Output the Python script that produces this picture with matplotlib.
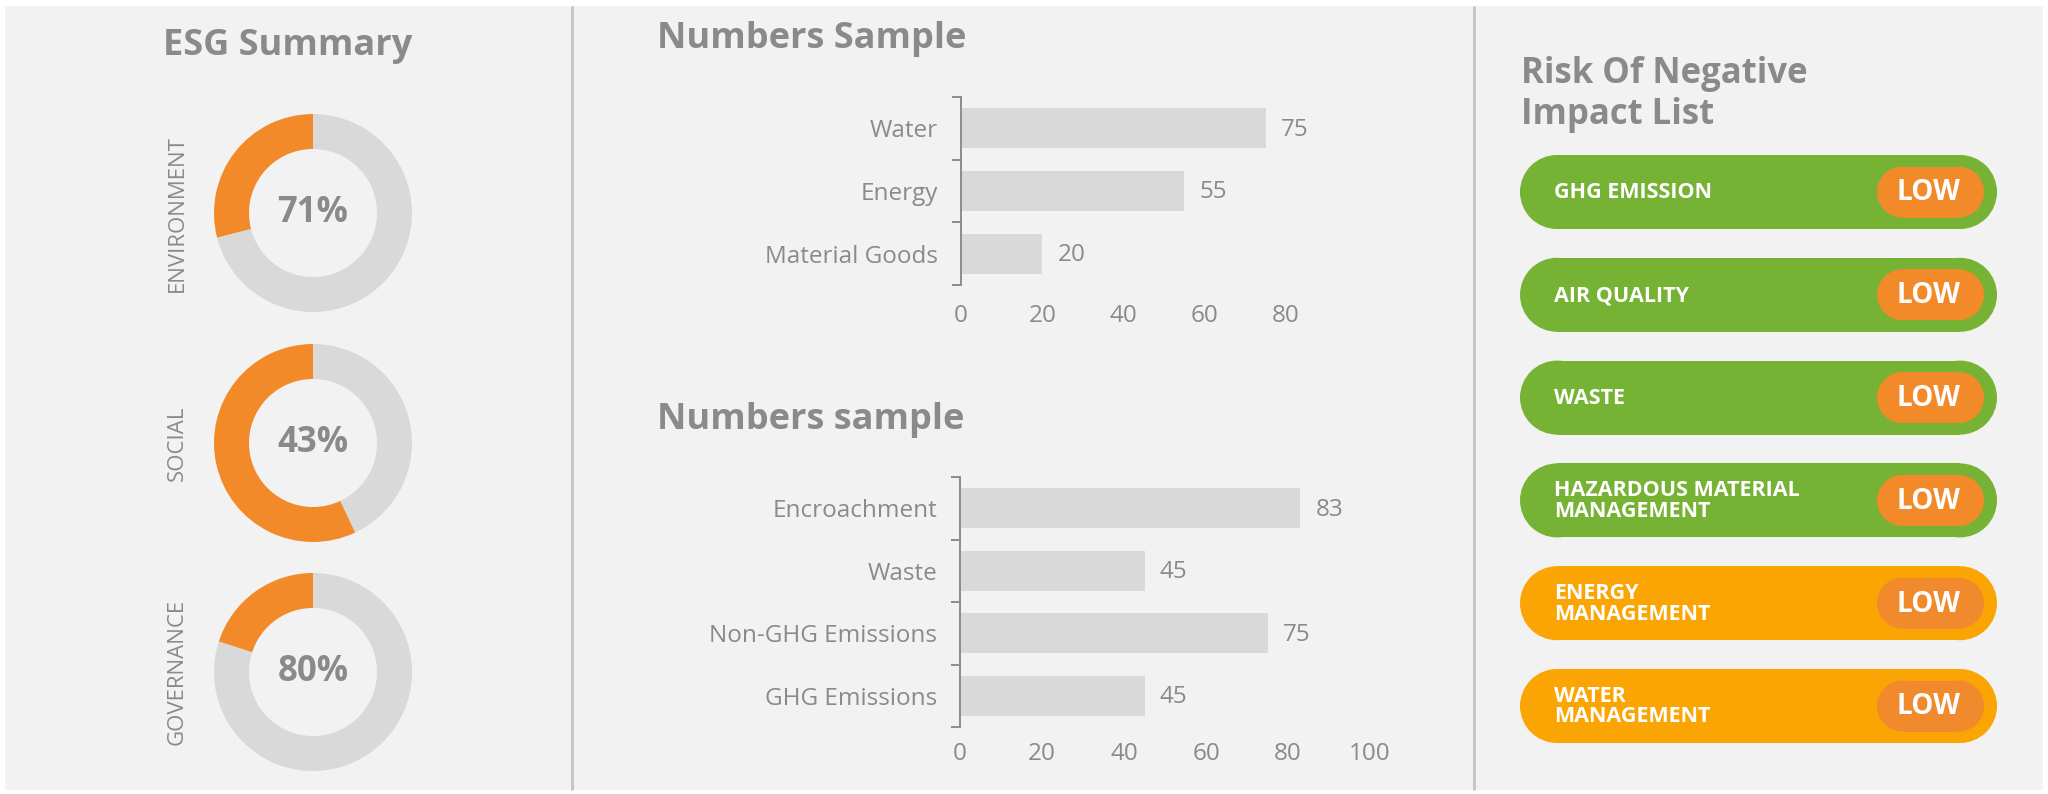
import matplotlib
matplotlib.use("Agg")
import matplotlib.pyplot as plt
from matplotlib.patches import Rectangle, Circle

# ---------------- data ----------------
esg_labels = ["ENVIRONMENT", "SOCIAL", "GOVERNANCE"]
esg_values = [71, 43, 80]

chart1_title = "Numbers Sample"
chart1_cats = ["Water", "Energy", "Material Goods"]
chart1_vals = [75, 55, 20]
chart1_ticks = [0, 20, 40, 60, 80]

chart2_title = "Numbers sample"
chart2_cats = ["Encroachment", "Waste", "Non-GHG Emissions", "GHG Emissions"]
chart2_vals = [83, 45, 75, 45]
chart2_ticks = [0, 20, 40, 60, 80, 100]

risk_items = ["GHG EMISSION", "AIR QUALITY", "WASTE",
              "HAZARDOUS MATERIAL\nMANAGEMENT", "ENERGY\nMANAGEMENT",
              "WATER\nMANAGEMENT"]
risk_group = ["green", "green", "green", "green", "amber", "amber"]
risk_levels = ["LOW", "LOW", "LOW", "LOW", "LOW", "LOW"]

# ---------------- style ----------------
FONT = ["Open Sans", "DejaVu Sans"]
plt.rcParams["font.family"] = FONT
TXT = "#8a8a8a"
PANEL = "#f2f2f2"
BARC = "#d9d9d9"
ORANGE = "#f28a2a"
GROUP_COL = {"green": "#76b234", "amber": "#fba504"}
BADGE_COL = {"green": "#f28a2a", "amber": "#f08a2c"}
LAB_FS = 17.5

W, H = 2048, 794
fig = plt.figure(figsize=(W / 100, H / 100), dpi=100, facecolor="white")

def px_axes(x0, y0, x1, y1, **kw):
    return fig.add_axes([x0 / W, 1 - y1 / H, (x1 - x0) / W, (y1 - y0) / H], **kw)

bg = px_axes(0, 0, W, H)
bg.set_xlim(0, W)
bg.set_ylim(H, 0)
bg.axis("off")
bg.add_patch(Rectangle((5, 6), 2038, 784, facecolor=PANEL, edgecolor="none"))
for sx in (572, 1474):
    bg.plot([sx, sx], [6, 790], color="#c4c4c4", lw=2, solid_capstyle="butt")

# ---------------- ESG donuts ----------------
bg.text(288, 55, "ESG Summary", ha="center", va="baseline", fontsize=26,
        fontweight="bold", color=TXT)
R_OUT = 99
centers_y = [213, 443, 672]
for lab, val, cy in zip(esg_labels, esg_values, centers_y):
    cx = 313
    ax = px_axes(cx - R_OUT, cy - R_OUT, cx + R_OUT, cy + R_OUT)
    ax.pie([val, 100 - val], colors=[BARC, ORANGE], startangle=90,
           counterclock=False, radius=1,
           wedgeprops=dict(width=35 / 99, edgecolor="none"))
    ax.set_xlim(-1, 1)
    ax.set_ylim(-1, 1)
    ax.set_aspect("equal")
    ax.axis("off")
    ax.text(0, 0, f"{val}%", ha="center", va="center", fontsize=25,
            fontweight="bold", color=TXT)
    bg.text(177, cy, lab, rotation=90, ha="center", va="center",
            fontsize=16, color=TXT)

# ---------------- bar charts ----------------
def bar_chart(box, cats, vals, ticks, xpad, title, title_pos):
    ax = px_axes(*box)
    ax.set_facecolor("none")
    n = len(cats)
    ypos = list(range(n))
    ax.barh(ypos, vals, height=0.64, color=BARC)
    ax.set_ylim(n - 0.5, -0.5)
    ax.set_xlim(ticks[0], ticks[-1])
    for s in ("top", "right", "bottom"):
        ax.spines[s].set_visible(False)
    ax.spines["left"].set_color("#8c8c8c")
    ax.spines["left"].set_linewidth(1.4)
    ax.set_yticks([i - 0.5 for i in range(n + 1)])
    ax.set_yticklabels([])
    ax.tick_params(axis="y", which="major", length=6.5, width=1.4,
                   color="#8c8c8c")
    ax.set_yticks(ypos, minor=True)
    ax.set_yticklabels(cats, minor=True)
    ax.tick_params(axis="y", which="minor", length=0, pad=16.5,
                   labelsize=LAB_FS, labelcolor=TXT)
    ax.set_xticks(ticks)
    ax.set_xticklabels([str(t) for t in ticks])
    ax.tick_params(axis="x", length=0, pad=xpad, labelsize=LAB_FS,
                   labelcolor=TXT)
    for i, v in enumerate(vals):
        ax.annotate(str(v), (v, i), xytext=(11, -1), textcoords="offset points",
                    ha="left", va="center", fontsize=LAB_FS, color=TXT)
    bg.text(title_pos[0], title_pos[1], title, ha="left", va="baseline",
            fontsize=26, fontweight="bold", color=TXT)
    return ax

bar_chart((961, 97, 1286, 285), chart1_cats, chart1_vals, chart1_ticks, 14,
          chart1_title, (657, 48))
bar_chart((960, 477, 1370, 727), chart2_cats, chart2_vals, chart2_ticks, 11,
          chart2_title, (657, 429))

# ---------------- risk list ----------------
bg.text(1521, 83, "Risk Of Negative", ha="left", va="baseline", fontsize=25,
        fontweight="bold", color=TXT)
bg.text(1521, 124, "Impact List", ha="left", va="baseline", fontsize=25,
        fontweight="bold", color=TXT)
PX0, PX1, PH = 1520, 1997, 74
for i, (item, grp, lvl) in enumerate(zip(risk_items, risk_group, risk_levels)):
    top = 155 + i * 102.8
    cy = top + PH / 2
    col = GROUP_COL[grp]
    bg.add_patch(Rectangle((PX0 + PH / 2, top), PX1 - PX0 - PH, PH,
                           facecolor=col, edgecolor="none"))
    bg.add_patch(Circle((PX0 + PH / 2, cy), PH / 2, facecolor=col,
                        edgecolor="none"))
    bg.add_patch(Circle((PX1 - PH / 2, cy), PH / 2, facecolor=col,
                        edgecolor="none"))
    # badge
    bh, bx0, bx1 = 51, 1877, 1984
    bc = BADGE_COL[grp]
    bg.add_patch(Rectangle((bx0 + bh / 2, cy - bh / 2), bx1 - bx0 - bh, bh,
                           facecolor=bc, edgecolor="none"))
    bg.add_patch(Circle((bx0 + bh / 2, cy), bh / 2, facecolor=bc,
                        edgecolor="none"))
    bg.add_patch(Circle((bx1 - bh / 2, cy), bh / 2, facecolor=bc,
                        edgecolor="none"))
    bg.text((bx0 + bx1) / 2 - 2, cy + 1, lvl, ha="center", va="center",
            fontsize=20, fontweight="bold", color="white")
    lines = item.split("\n")
    if len(lines) == 1:
        bg.text(1554, cy + 1, lines[0], ha="left", va="center", fontsize=15.5,
                fontweight="bold", color="white")
    else:
        bg.text(1554, cy - 10, lines[0], ha="left", va="center", fontsize=15.5,
                fontweight="bold", color="white")
        bg.text(1554, cy + 11, lines[1], ha="left", va="center", fontsize=15.5,
                fontweight="bold", color="white")

fig.savefig("out.png", dpi=100, facecolor="white")
